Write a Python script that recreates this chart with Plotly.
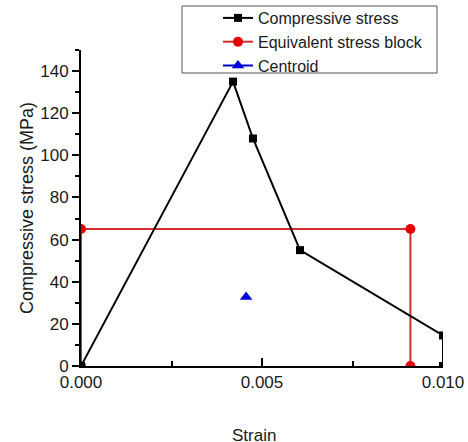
import plotly.graph_objects as go

# Data
comp_strain = [0.0, 0.0042, 0.00475, 0.00605, 0.0100, 0.0100]
comp_stress = [0.0, 135.0, 108.0, 55.0, 14.5, 0.0]

block_strain = [0.0, 0.0, 0.0091, 0.0091]
block_stress = [0.0, 65.0, 65.0, 0.0]

centroid_strain = [0.00456]
centroid_stress = [32.8]

x_tickvals = [0.000, 0.005, 0.010]
y_tickvals = [0, 20, 40, 60, 80, 100, 120, 140]

font_family = "Liberation Sans, Arial, sans-serif"
txt = "#1a1a1a"

fig = go.Figure()
fig.add_trace(go.Scatter(
    x=block_strain, y=block_stress, mode="lines+markers",
    name="Equivalent stress block",
    line=dict(color="rgb(215,45,45)", width=2),
    marker=dict(symbol="circle", size=10, color="rgb(230,0,0)"),
    legendrank=2,
))
fig.add_trace(go.Scatter(
    x=comp_strain, y=comp_stress, mode="lines+markers",
    name="Compressive stress",
    line=dict(color="black", width=2),
    marker=dict(symbol="square", size=8, color="black"),
    legendrank=1,
))
fig.add_trace(go.Scatter(
    x=centroid_strain, y=centroid_stress, mode="lines+markers",
    name="Centroid",
    line=dict(color="rgb(0,0,205)", width=2),
    marker=dict(symbol="triangle-up", size=11, color="rgb(0,0,220)"),
    legendrank=3,
))

# plot area: 362 x 316 px
PW, PH = 362.0, 316.0
T = 50

fig.update_layout(
    width=468, height=442,
    margin=dict(l=81, r=25, t=T, b=76, autoexpand=False),
    paper_bgcolor="white", plot_bgcolor="white",
    font=dict(family=font_family, size=16, color=txt),
    showlegend=True,
    legend=dict(
        x=(218 - 81) / PW, xanchor="left",
        y=1.0 + (T - 1) / PH, yanchor="top",
        borderwidth=0, bgcolor="rgba(0,0,0,0)",
        font=dict(size=16, color=txt),
        tracegroupgap=0, traceorder="normal",
    ),
    shapes=[
        dict(type="rect", xref="paper", yref="paper",
             x0=(182 - 81) / PW, x1=(437 - 81) / PW,
             y0=(366 - 73) / PH, y1=(366 - 6) / PH,
             line=dict(color="#555", width=1), fillcolor="white", layer="above"),
    ],
    annotations=[
        dict(text="Strain", xref="paper", yref="paper", x=(254 - 81) / PW, y=(366 - 435) / PH,
             xanchor="center", yanchor="middle", showarrow=False,
             font=dict(size=17, color=txt)),
        dict(text="Figure 2. Compressive stress relationship with equivalent stress block",
             xref="paper", yref="paper", x=(272 - 81) / PW, y=(366 - 443) / PH,
             xanchor="center", yanchor="top", showarrow=False, bgcolor="white",
             borderpad=0, font=dict(size=18, color=txt)),
    ],
)
fig.update_xaxes(
    range=[0, 0.010], tickvals=x_tickvals, tickformat=".3f",
    showline=True, linecolor="black", linewidth=2,
    ticks="inside", ticklen=8, tickwidth=2, tickcolor="black",
    minor=dict(dtick=0.0025, ticks="inside", ticklen=5, tickwidth=2, tickcolor="black"),
    showgrid=False, zeroline=False, mirror=False,
    tickfont=dict(size=17, color=txt),
)
fig.update_yaxes(
    range=[0, 150], tickvals=y_tickvals,
    showline=True, linecolor="black", linewidth=2,
    ticks="outside", ticklen=7, tickwidth=2, tickcolor="black",
    minor=dict(dtick=10, ticks="outside", ticklen=4, tickwidth=2, tickcolor="black"),
    showgrid=False, zeroline=False, mirror=False,
    title=dict(text="Compressive stress (MPa)", font=dict(size=18, color=txt), standoff=2),
    tickfont=dict(size=17, color=txt),
)

fig.write_html(
    "out.html",
    config={"displayModeBar": False},
    post_script="document.body.style.margin='0px';document.body.style.overflow='hidden';",
)
